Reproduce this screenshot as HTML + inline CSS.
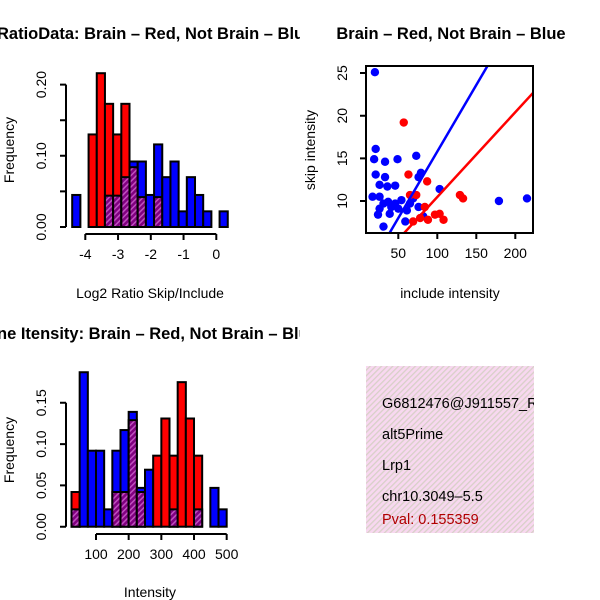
<!DOCTYPE html>
<html><head><meta charset="utf-8"><style>body{margin:0;background:#fff}svg{display:block;font-family:"Liberation Sans",sans-serif}</style></head>
<body>
<svg id="c" width="600" height="600" xmlns="http://www.w3.org/2000/svg">
<defs>
<pattern id="hatch" width="4" height="4" patternUnits="userSpaceOnUse" patternTransform="rotate(45)"><rect width="4" height="4" fill="#800080"/><rect width="1.5" height="4" fill="#c050c0"/></pattern>
<pattern id="pink" width="4" height="4" patternUnits="userSpaceOnUse" patternTransform="rotate(45)"><rect width="4" height="4" fill="#f8d8f0"/><rect width="1.3" height="4" fill="#d8d0c8"/></pattern>
<clipPath id="cl"><rect x="0" y="0" width="300" height="600"/></clipPath>
<clipPath id="sc"><rect x="366" y="66" width="167" height="167"/></clipPath>
</defs>
<g clip-path="url(#cl)">
<text x="-3" y="39" font-size="16.5" font-weight="bold">RatioData: Brain – Red, Not Brain – Blue</text>
<text x="-3" y="339" font-size="16.5" font-weight="bold">ne Itensity: Brain – Red, Not Brain – Blue</text>
</g>
<text x="451" y="39" font-size="16.5" font-weight="bold" text-anchor="middle">Brain – Red, Not Brain – Blue</text>
<text x="150" y="298" font-size="14" text-anchor="middle">Log2 Ratio Skip/Include</text>
<text x="150" y="597" font-size="14" text-anchor="middle">Intensity</text>
<text x="450" y="298" font-size="14" text-anchor="middle">include intensity</text>
<text transform="translate(14,150) rotate(-90)" font-size="14" text-anchor="middle">Frequency</text>
<text transform="translate(14,450) rotate(-90)" font-size="14" text-anchor="middle">Frequency</text>
<text transform="translate(315,150) rotate(-90)" font-size="14" text-anchor="middle">skip intensity</text>
<g id="g1"></g>
<g id="g2"></g>
<g id="g3"></g>
<g>
<rect x="366" y="366" width="168" height="167" fill="url(#pink)"/>
<svg x="366" y="366" width="168" height="167">
<text x="16" y="42" font-size="14.5">G6812476@J911557_RC</text>
<text x="16" y="73" font-size="14.5">alt5Prime</text>
<text x="16" y="104" font-size="14.5">Lrp1</text>
<text x="16" y="135" font-size="14.5">chr10.3049–5.5</text>
<text x="16" y="158" font-size="14.5" fill="#b00000">Pval: 0.155359</text>
</svg>
</g>
</svg>
<script>
// Ratio histogram data
const ratioBinStart = -4.4, ratioBinWidth = 0.25;
const ratioRed  = [0,0,0.13,0.216,0.173,0.13,0.173,0.084,0.042,0,0.042,0,0,0,0,0,0,0,0];
const ratioBlue = [0.045,0,0,0,0.044,0.044,0.07,0.092,0.092,0.045,0.116,0.07,0.092,0.022,0.07,0.045,0.022,0,0.022];
const ratioXTicks = [-4,-3,-2,-1,0];
const ratioYTicks = [0,0.05,0.1,0.15,0.2];
const ratioYLabels = ["0.00","","0.10","","0.20"];
// Intensity histogram data
const intBinStart = 25, intBinWidth = 25;
const intRed  = [0.042,0,0,0,0,0.042,0.042,0.129,0.042,0,0.086,0.131,0.086,0.175,0.131,0.086,0,0,0];
const intBlue = [0.021,0.187,0.092,0.092,0.021,0.092,0.117,0.139,0.047,0.069,0,0,0.021,0,0,0.021,0,0.047,0.021];
const intXTicks = [100,200,300,400,500];
const intYTicks = [0,0.05,0.1,0.15];
const intYLabels = ["0.00","0.05","0.10","0.15"];
// Scatter data
const blueX = [20,21,19,33,49,73,21,33,26,36,46,79,76,103,17,26,37,46,54,65,76,26,39,24,31,59,82,179,215,50,61,41,31,69];
const blueY = [25.1,16.1,14.9,14.6,14.9,15.3,13.1,12.8,11.9,11.7,11.8,13.3,12.8,11.4,10.5,10.5,9.9,9.7,10.1,9.7,9.3,9.1,8.5,8.4,7.0,7.6,8.2,10.0,10.3,9.1,8.9,9.3,9.7,10.3];
const redX = [57,63,87,65,73,129,133,103,108,88,69,84,97,78];
const redY = [19.2,13.1,12.3,10.7,10.7,10.7,10.3,8.5,7.8,7.8,7.6,9.3,8.4,8.0];
const fitBlue = [0.2, 0.156];   // intercept, slope
const fitRed  = [0.53, 0.0994];
const scXTicks = [50,100,150,200];
const scYTicks = [10,15,20,25];

const NS="http://www.w3.org/2000/svg";
function mk(p,t,a){const e=document.createElementNS(NS,t);for(const k in a)e.setAttribute(k,a[k]);p.appendChild(e);return e;}

function hist(g,red,blue,start,w,xs,ys,xT,yT,yL,xAxisY,prefix){
  for(let i=0;i<red.length;i++){
    const x0=xs(start+i*w),x1=xs(start+(i+1)*w);
    const r=red[i],b=blue[i],mx=Math.max(r,b),mn=Math.min(r,b);
    if(mx>0){
      const top=mk(g,'rect',{x:x0,y:ys(mx),width:x1-x0,height:ys(0)-ys(mx),fill:r>=b?'#ff0000':'#0000ff',stroke:'#000','stroke-width':2});
      
      
    }
    if(mn>0){
      const ov=mk(g,'rect',{x:x0,y:ys(mn),width:x1-x0,height:ys(0)-ys(mn),fill:'url(#hatch)',stroke:'#000','stroke-width':2});
      
      
    }
  }
  const xa=mk(g,'path',{d:`M${xs(xT[0])},${xAxisY}H${xs(xT[xT.length-1])}`+xT.map(t=>`M${xs(t)},${xAxisY}v6`).join(''),stroke:'#000','stroke-width':2,fill:'none'});
  
  
  xT.forEach(t=>{const e=mk(g,'text',{x:xs(t),y:xAxisY+25,'font-size':14,'text-anchor':'middle'});e.textContent=t;
    
    });
  const ya=mk(g,'path',{d:`M66,${ys(yT[0])}V${ys(yT[yT.length-1])}`+yT.map(t=>`M66,${ys(t)}h-6`).join(''),stroke:'#000','stroke-width':2,fill:'none'});
  
  
  yT.forEach((t,i)=>{if(!yL[i])return;const e=mk(g,'text',{transform:`translate(46,${ys(t)}) rotate(-90)`,'font-size':14,'text-anchor':'middle'});e.textContent=yL[i];
    
    });
}
const rx=v=>85.3+(v+4)*32.75, ry=f=>227-f*712;
hist(document.getElementById('g1'),ratioRed,ratioBlue,ratioBinStart,ratioBinWidth,rx,ry,ratioXTicks,ratioYTicks,ratioYLabels,234,'ratio');
const ix=v=>96+(v-100)*0.3267, iy=f=>526.7-f*826;
hist(document.getElementById('g2'),intRed,intBlue,intBinStart,intBinWidth,ix,iy,intXTicks,intYTicks,intYLabels,534,'intensity');

const g3=document.getElementById('g3');
const sx=v=>398.3+(v-50)*0.78, sy=v=>201-(v-10)*8.53;
const pts=mk(g3,'g',{'clip-path':'url(#sc)'});


blueX.forEach((x,i)=>{const c=mk(pts,'circle',{cx:sx(x),cy:sy(blueY[i]),r:4.2,fill:'#0000ff'});
  
  });
redX.forEach((x,i)=>{const c=mk(pts,'circle',{cx:sx(x),cy:sy(redY[i]),r:4.2,fill:'#ff0000'});
  
  });
[[fitBlue,'#0000ff','not-brain-fit-line'],[fitRed,'#ff0000','brain-fit-line']].forEach(([f,col,n])=>{
  const l=mk(pts,'line',{x1:sx(0),y1:sy(f[0]),x2:sx(300),y2:sy(f[0]+f[1]*300),stroke:col,'stroke-width':2.5});
  
  });
const box=mk(g3,'rect',{x:366,y:66,width:167,height:167,fill:'none',stroke:'#000','stroke-width':2});


const sxa=mk(g3,'path',{d:scXTicks.map(t=>`M${sx(t)},233v6`).join('')+scYTicks.map(t=>`M366,${sy(t)}h-6`).join(''),stroke:'#000','stroke-width':2});


scXTicks.forEach(t=>{const e=mk(g3,'text',{x:sx(t),y:258,'font-size':14,'text-anchor':'middle'});e.textContent=t;
  
  });
scYTicks.forEach(t=>{const e=mk(g3,'text',{transform:`translate(347,${sy(t)}) rotate(-90)`,'font-size':14,'text-anchor':'middle'});e.textContent=t;
  
  });
</script>
</body></html>
